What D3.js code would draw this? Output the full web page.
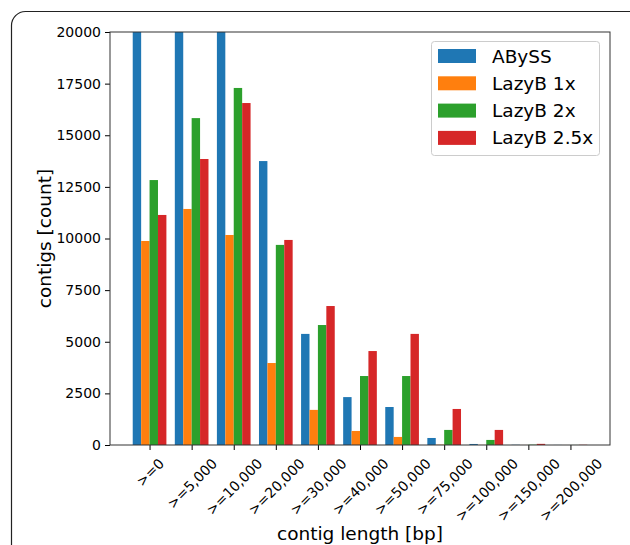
<!DOCTYPE html>
<html>
<head>
<meta charset="utf-8">
<script src="https://cdn.jsdelivr.net/npm/d3@7"></script>
<style>
  html, body { margin: 0; padding: 0; background: #fff; }
  svg { display: block; font-family: "DejaVu Sans", sans-serif; }
</style>
</head>
<body>
<svg id="chart" width="630" height="545"></svg>
<script>
const categories = [">=0", ">=5,000", ">=10,000", ">=20,000", ">=30,000", ">=40,000", ">=50,000", ">=75,000", ">=100,000", ">=150,000", ">=200,000"];
const seriesNames = ["ABySS", "LazyB 1x", "LazyB 2x", "LazyB 2.5x"];
const seriesColors = ["#1f77b4", "#ff7f0e", "#2ca02c", "#d62728"];
const abyss   = [26000, 23000, 21000, 13750, 5380, 2320, 1840, 340, 50, 10, 3];
const lazyb1  = [9880, 11430, 10170, 3970, 1700, 680, 390, 15, 5, 2, 1];
const lazyb2  = [12830, 15830, 17290, 9690, 5810, 3340, 3340, 730, 245, 15, 3];
const lazyb25 = [11140, 13850, 16560, 9930, 6730, 4550, 5380, 1745, 730, 55, 10];
const yTicks = [0, 2500, 5000, 7500, 10000, 12500, 15000, 17500, 20000];
const series = [abyss, lazyb1, lazyb2, lazyb25];

const svg = d3.select("#chart");
const L = 110, R = 610, T = 32, B = 445;

// outer rounded frame
svg.append("rect").attr("x", 11.5).attr("y", 11.5).attr("width", 660).attr("height", 600)
  .attr("rx", 14).attr("fill", "none").attr("stroke", "#222").attr("stroke-width", 1.2);

const nCat = categories.length;
const x = d3.scaleLinear().domain([-0.94, nCat - 1 + 0.94]).range([L, R]);
const y = d3.scaleLinear().domain([0, 20000]).range([B, T]);
const barW = 0.2;

svg.append("clipPath").attr("id", "clip").append("rect")
  .attr("x", L).attr("y", T).attr("width", R - L).attr("height", B - T);

const g = svg.append("g").attr("clip-path", "url(#clip)");
series.forEach((vals, si) => {
  g.selectAll(null).data(vals).enter().append("rect")
    .attr("x", (d, i) => x(i - 0.4 + si * barW))
    .attr("width", (d, i) => x(i - 0.4 + (si + 1) * barW) - x(i - 0.4 + si * barW))
    .attr("y", d => y(d))
    .attr("height", d => B - y(d))
    .attr("fill", seriesColors[si]);
});

// y axis
const yAxis = svg.append("g").attr("transform", `translate(${L},0)`)
  .call(d3.axisLeft(y).tickValues(yTicks).tickFormat(d3.format("d")).tickSize(5).tickPadding(4));
yAxis.select(".domain").remove();
yAxis.selectAll("text").attr("font-size", 14).attr("fill", "#000").attr("font-family", "DejaVu Sans");
yAxis.selectAll("line").attr("stroke", "#000");

// x axis
const xAxis = svg.append("g").attr("transform", `translate(0,${B})`)
  .call(d3.axisBottom(x).tickValues(d3.range(nCat)).tickFormat(i => categories[i]).tickSize(5));
xAxis.select(".domain").remove();
xAxis.selectAll("line").attr("stroke", "#000");
xAxis.selectAll("text").each(function () {
  const t = d3.select(this);
  t.attr("font-size", 14).attr("fill", "#000").attr("font-family", "DejaVu Sans")
   .attr("text-anchor", "middle").attr("dy", null).attr("dominant-baseline", "central");
  const w = this.getComputedTextLength();
  const h = 14 * 1.0;
  const half = (w + h) / (2 * Math.SQRT2);
  t.attr("y", 11 + half).attr("x", 0)
   .attr("transform", `rotate(-45, 0, ${11 + half})`);
});

// spines
svg.append("rect").attr("x", L).attr("y", T).attr("width", R - L).attr("height", B - T)
  .attr("fill", "none").attr("stroke", "#333").attr("stroke-width", 1);

// axis labels
svg.append("text").attr("x", (L + R) / 2).attr("y", 540).attr("text-anchor", "middle")
  .attr("font-size", 18.5).text("contig length [bp]");
svg.append("text").attr("transform", `translate(51,${(T + B) / 2}) rotate(-90)`)
  .attr("text-anchor", "middle").attr("font-size", 18.5).text("contigs [count]");

// legend
const lg = svg.append("g");
lg.append("rect").attr("x", 431.5).attr("y", 41.5).attr("width", 168).attr("height", 114)
  .attr("rx", 3).attr("fill", "#fff").attr("fill-opacity", 0.8).attr("stroke", "#ccc");
seriesNames.forEach((name, i) => {
  const cy = 56 + i * 27.3;
  lg.append("rect").attr("x", 438).attr("y", cy - 7).attr("width", 38).attr("height", 14)
    .attr("fill", seriesColors[i]);
  lg.append("text").attr("x", 492).attr("y", cy).attr("dominant-baseline", "central")
    .attr("font-size", 18.5).text(name);
});
</script>
</body>
</html>
